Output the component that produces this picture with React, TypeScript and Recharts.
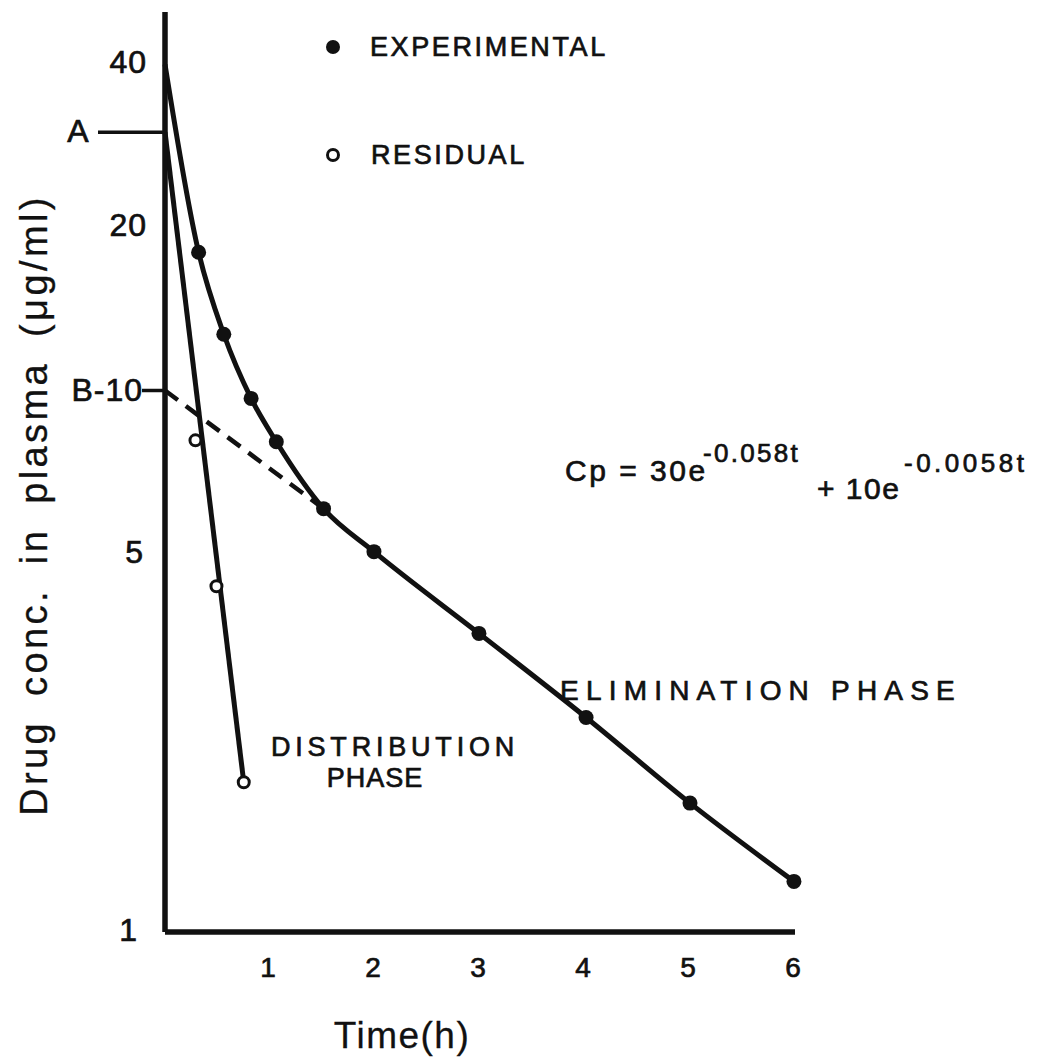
import React from "react";
import {
  ComposedChart, Line, Scatter, XAxis, YAxis,
} from "recharts";

// Time (h) and plasma concentration (µg/ml)
const expTimes = [0.32, 0.56, 0.82, 1.06, 1.51, 1.99, 2.99, 4.01, 5.0, 5.99];
const expConc = [18.0, 12.7, 9.67, 8.04, 6.05, 5.04, 3.56, 2.49, 1.73, 1.24];

const resTimes = [0.29, 0.49, 0.75];
const resConc = [8.09, 4.35, 1.89];

// curve starts at Cp(0) = A + B
const curveStart = { t: 0, c: 40 };
// back-extrapolated lines: distribution (from A) and elimination (from B)
const residualFit = [{ t: 0, c: 30 }, { t: 0.75, c: 1.89 }];
const eliminationBack = [{ t: 0, c: 10 }, { t: 1.51, c: 6.05 }];

const xTicks = [1, 2, 3, 4, 5, 6];
const yTicks = [1, 5, 10, 20, 30, 40];

const INK = "#111";
const FONT = "'Liberation Sans', Arial, sans-serif";
// the scanned lettering is heavier than a regular face
const HEAVY = { stroke: INK, strokeWidth: 0.7 };

const expPoints = expTimes.map((t, i) => ({ t, c: expConc[i] }));
const resPoints = resTimes.map((t, i) => ({ t, c: resConc[i] }));
const expCurve = [curveStart, ...expPoints];

function YTick({ y, payload }: any) {
  const v = payload.value;
  const common = { fontFamily: FONT, fontSize: 32, fill: INK, dominantBaseline: "central" as const, ...HEAVY };
  if (v === 30) {
    return (
      <g>
        <text x={78} y={y - 1} textAnchor="middle" {...common}>A</text>
        <line x1={98} x2={167} y1={y} y2={y} stroke={INK} strokeWidth={3.5} />
      </g>
    );
  }
  if (v === 10) {
    return (
      <g>
        <text x={143} y={y} textAnchor="end" letterSpacing={1} {...common}>B-10</text>
        <line x1={142} x2={167} y1={y} y2={y} stroke={INK} strokeWidth={3.5} />
      </g>
    );
  }
  const right: Record<number, number> = { 40: 147, 20: 147, 5: 144, 1: 138 };
  return <text x={right[v]} y={y - 2} textAnchor="end" letterSpacing={1} {...common}>{v}</text>;
}

function XTick({ x, payload }: any) {
  return (
    <text x={x - 2} y={967} textAnchor="middle" dominantBaseline="central"
      fontFamily={FONT} fontSize={28} fill={INK} {...HEAVY}>{payload.value}</text>
  );
}

const filledDot = (r: number) => (p: any) =>
  <circle cx={p.cx} cy={p.cy} r={r} fill={INK} />;
const openDot = (p: any) =>
  <circle cx={p.cx} cy={p.cy} r={5.5} fill="#fff" stroke={INK} strokeWidth={3} />;

export default function App() {
  const txt = { fontFamily: FONT, fill: INK, ...HEAVY };
  return (
    <div style={{ position: "absolute", left: 0, top: 0, width: 1041, height: 1060, background: "#fff" }}>
      <ComposedChart width={1041} height={1060} margin={{ top: 12, right: 246, bottom: 68, left: 0 }}>
        <XAxis dataKey="t" type="number" domain={[0, 6]} ticks={xTicks} height={60}
          axisLine={{ stroke: INK, strokeWidth: 5.5 }} tickLine={false} tick={<XTick />} />
        <YAxis type="number" scale="log" domain={[1, 50]} ticks={yTicks} width={165}
          allowDataOverflow axisLine={{ stroke: INK, strokeWidth: 5.5 }} tickLine={false} tick={<YTick />} />
        <Line data={eliminationBack} dataKey="c" type="linear" stroke={INK} strokeWidth={4.5}
          strokeDasharray="16 10" dot={false} isAnimationActive={false} />
        <Line data={residualFit} dataKey="c" type="linear" stroke={INK} strokeWidth={5}
          dot={false} isAnimationActive={false} />
        <Line data={expCurve} dataKey="c" type="monotone" stroke={INK} strokeWidth={5}
          dot={false} isAnimationActive={false} />
        <Scatter data={expPoints} dataKey="c" shape={filledDot(7.5)} isAnimationActive={false} />
        <Scatter data={resPoints} dataKey="c" shape={openDot} isAnimationActive={false} />
      </ComposedChart>

      <svg width={1041} height={1060} style={{ position: "absolute", left: 0, top: 0, pointerEvents: "none" }}>
        {/* legend */}
        <circle cx={333} cy={47} r={7} fill={INK} />
        <text x={370} y={47} dominantBaseline="central" fontSize={27} letterSpacing={2.6} {...txt}>EXPERIMENTAL</text>
        <circle cx={333} cy={155} r={5.5} fill="#fff" stroke={INK} strokeWidth={3} />
        <text x={371} y={155} dominantBaseline="central" fontSize={27} letterSpacing={2.6} {...txt}>RESIDUAL</text>

        {/* equation */}
        <text x={565} y={481} fontSize={30} letterSpacing={2.5} {...txt}>Cp = 30e</text>
        <text x={703} y={462} fontSize={26} letterSpacing={2.3} {...txt}>-0.058t</text>
        <text x={817} y={499} fontSize={30} letterSpacing={1.5} {...txt}>+ 10e</text>
        <text x={904} y={472} fontSize={26} letterSpacing={3.5} {...txt}>-0.0058t</text>

        {/* phase labels */}
        <text x={560} y={690} dominantBaseline="central" fontSize={28} letterSpacing={7.2} {...txt}>ELIMINATION PHASE</text>
        <text x={395} y={747} textAnchor="middle" dominantBaseline="central" fontSize={27} letterSpacing={4.8} {...txt}>DISTRIBUTION</text>
        <text x={375} y={778} textAnchor="middle" dominantBaseline="central" fontSize={27} letterSpacing={1} {...txt}>PHASE</text>

        {/* axis titles */}
        <text x={402} y={1035} textAnchor="middle" dominantBaseline="central" fontSize={37} letterSpacing={1.5}
          fontFamily={FONT} fill={INK} stroke={INK} strokeWidth={0.3}>Time(h)</text>
        <text transform="translate(34,505) rotate(-90)" textAnchor="middle" dominantBaseline="central"
          fontSize={38} letterSpacing={3.4} wordSpacing={10} fontFamily={FONT} fill={INK} stroke={INK} strokeWidth={0.3}>
          Drug conc. in plasma (μg/ml)
        </text>
      </svg>
    </div>
  );
}
